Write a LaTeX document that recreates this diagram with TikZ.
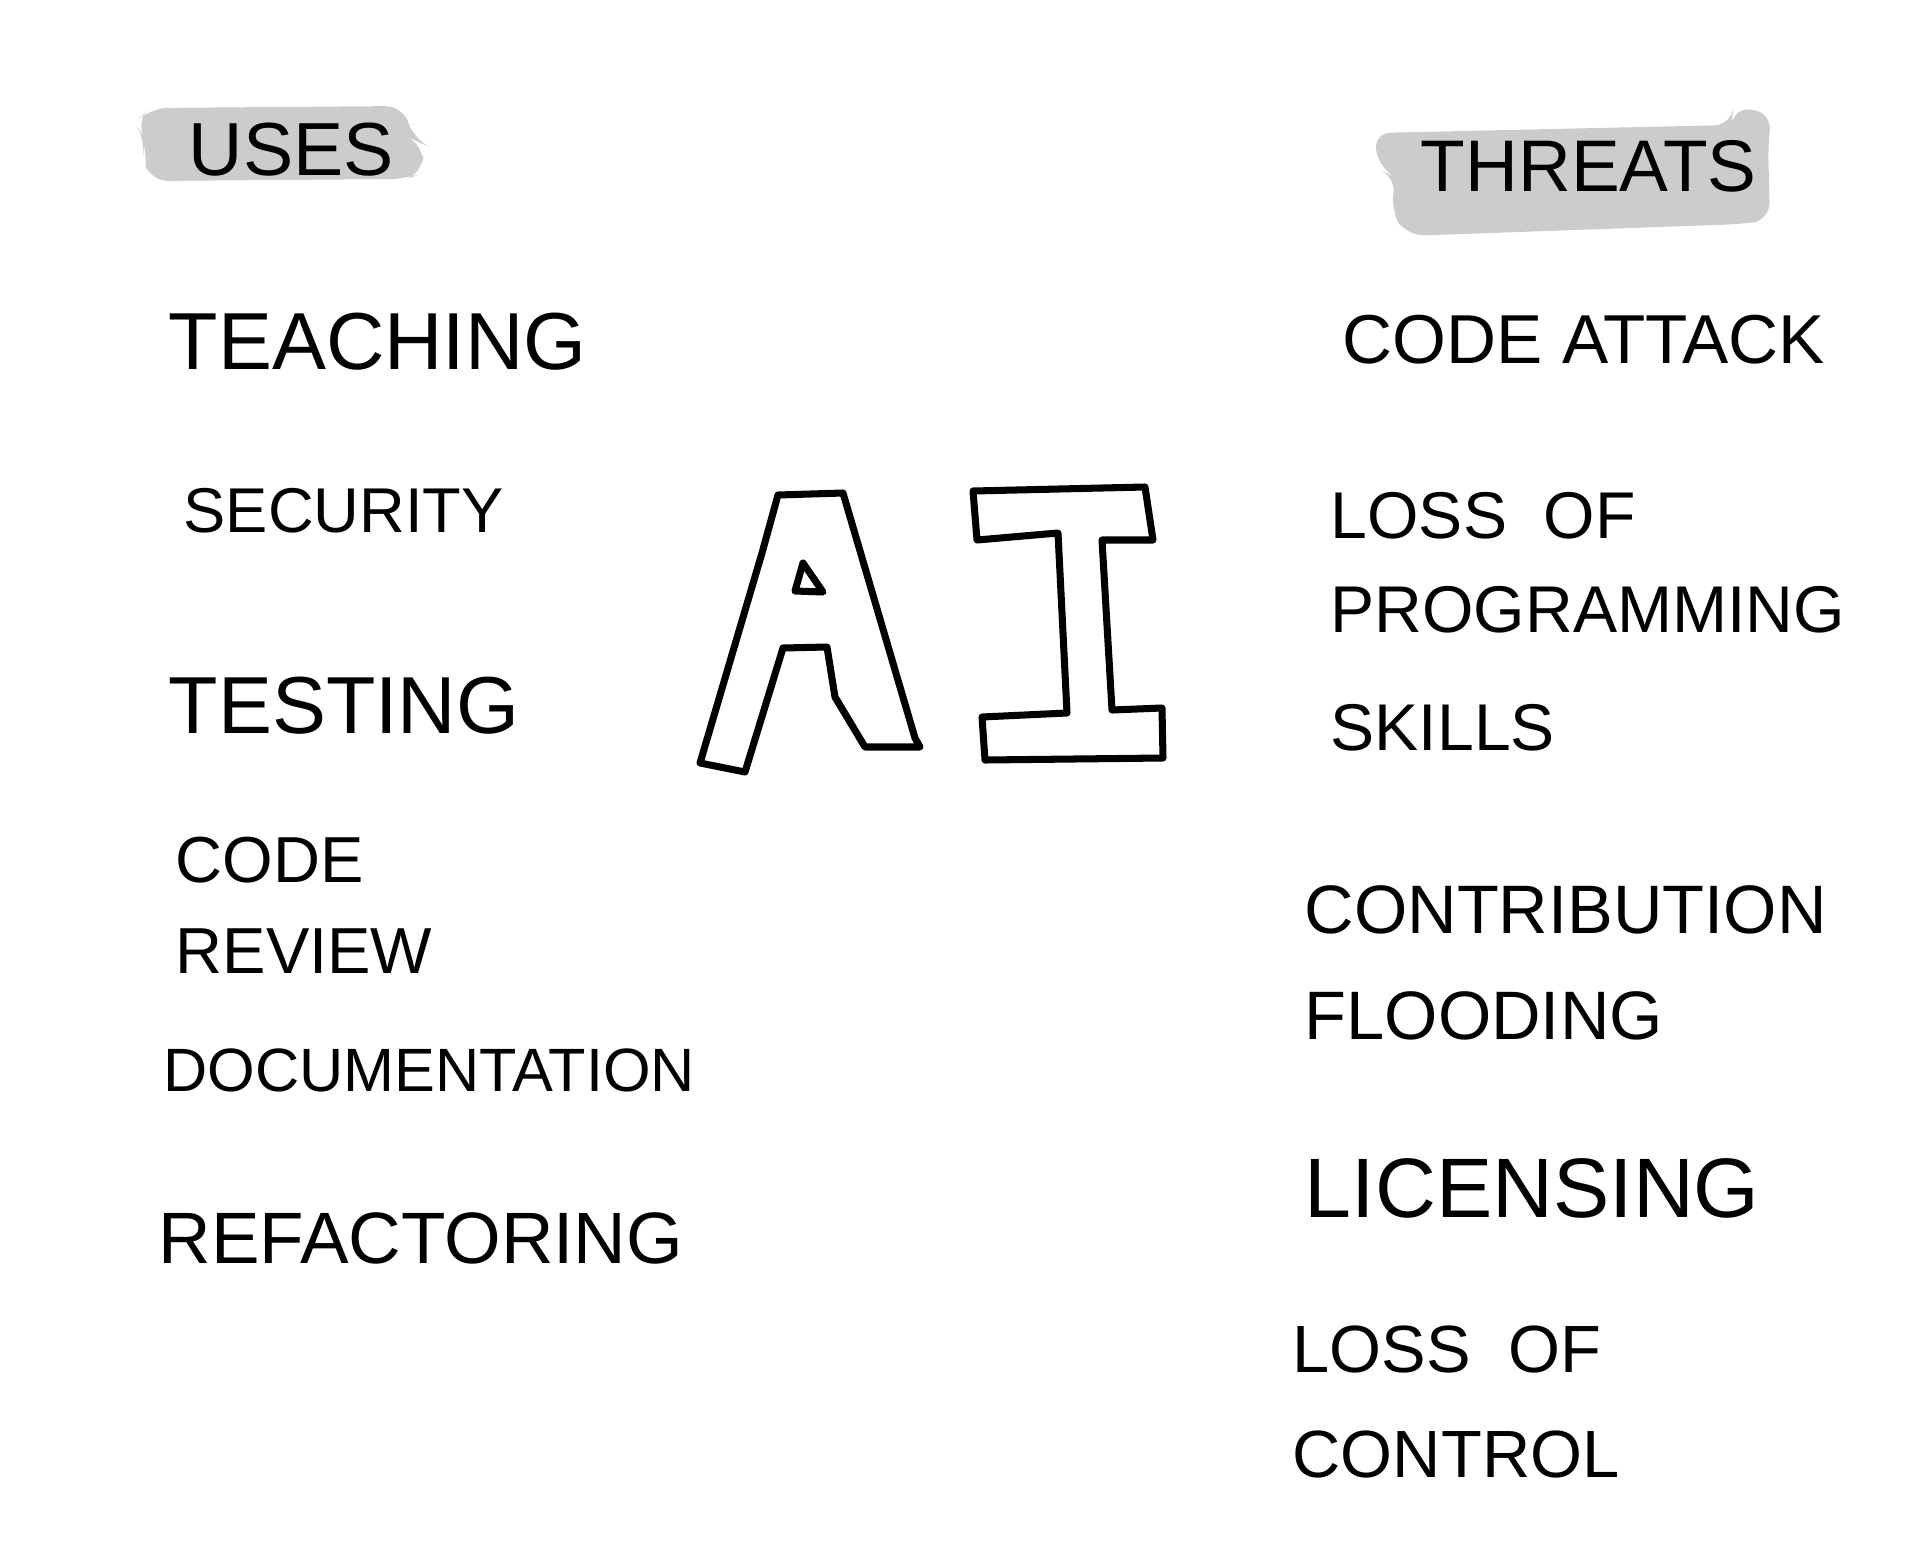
\documentclass[tikz,border=0pt]{standalone}
\usepackage{fontspec}
\setmainfont{Liberation Sans}

\begin{document}
\begin{tikzpicture}[x=0.01cm,y=-0.01cm,
  word/.style={anchor=north west,inner sep=0pt,align=left,font=\fontsize{#1}{#1}\selectfont},
  tape/.style={fill=black!20,draw=none,rounded corners=5pt},
  letter/.style={line width=2pt,line join=round,line cap=round}]

\useasboundingbox (0,0) rectangle (1920,1545);

% grey tapes behind the headings
\fill[tape] (135,123) -- (150,108) -- (403,106) -- (414,140) -- (423,144) -- (423,173)
  -- (407,179) -- (150,181) -- (143,157) -- (146,140) -- cycle;
\fill[tape] (1373,133) -- (1732,125) -- (1733,107) -- (1772,113) -- (1768,143)
  -- (1770,220) -- (1743,224) -- (1407,236) -- (1390,210) -- (1397,178) -- (1380,170) -- cycle;

\node[word=21.4] (uses) at (188,122) {USES};
\node[word=20.8] (threats) at (1420,140) {THREATS};

% uses
\node[word=23] (teaching) at (168,312) {TEACHING};
\node[word=18] (security) at (183,488) {SECURITY};
\node[word=23] (testing) at (168,676) {TESTING};
\node[word=18.5] (review) at (175,836) {CODE\\[7.5pt]REVIEW};
\node[word=17.4] (docs) at (163,1048) {DOCUMENTATION};
\node[word=20.7] (refactor) at (158,1212) {REFACTORING};

% A
\draw[letter] (700,763) -- (762,553) -- (778,495) -- (843,493) -- (915,738)
  -- (920,747) -- (865,747) -- (835,697) -- (827,647) -- (783,648) -- (745,772) -- cycle;
\draw[letter] (803,563) -- (823,592) -- (795,591) -- cycle;

% I
\draw[letter] (973,491) -- (1145,487) -- (1153,540) -- (1102,540) -- (1112,710)
  -- (1162,708) -- (1163,758) -- (985,760) -- (982,717) -- (1067,713)
  -- (1058,533) -- (977,540) -- cycle;

% threats
\node[word=19.7] (attack) at (1342,314) {CODE ATTACK};
\node[word=18.8] (skills) at (1330,492) {LOSS\ \ OF\\[7.9pt]PROGRAMMING\\[14.8pt]SKILLS};
\node[word=19.5] (flooding) at (1304,885) {CONTRIBUTION\\[10.5pt]FLOODING};
\node[word=24] (licensing) at (1304,1158) {LICENSING};
\node[word=19] (control) at (1292,1325) {LOSS\ \ OF\\[10.8pt]CONTROL};

\end{tikzpicture}
\end{document}
